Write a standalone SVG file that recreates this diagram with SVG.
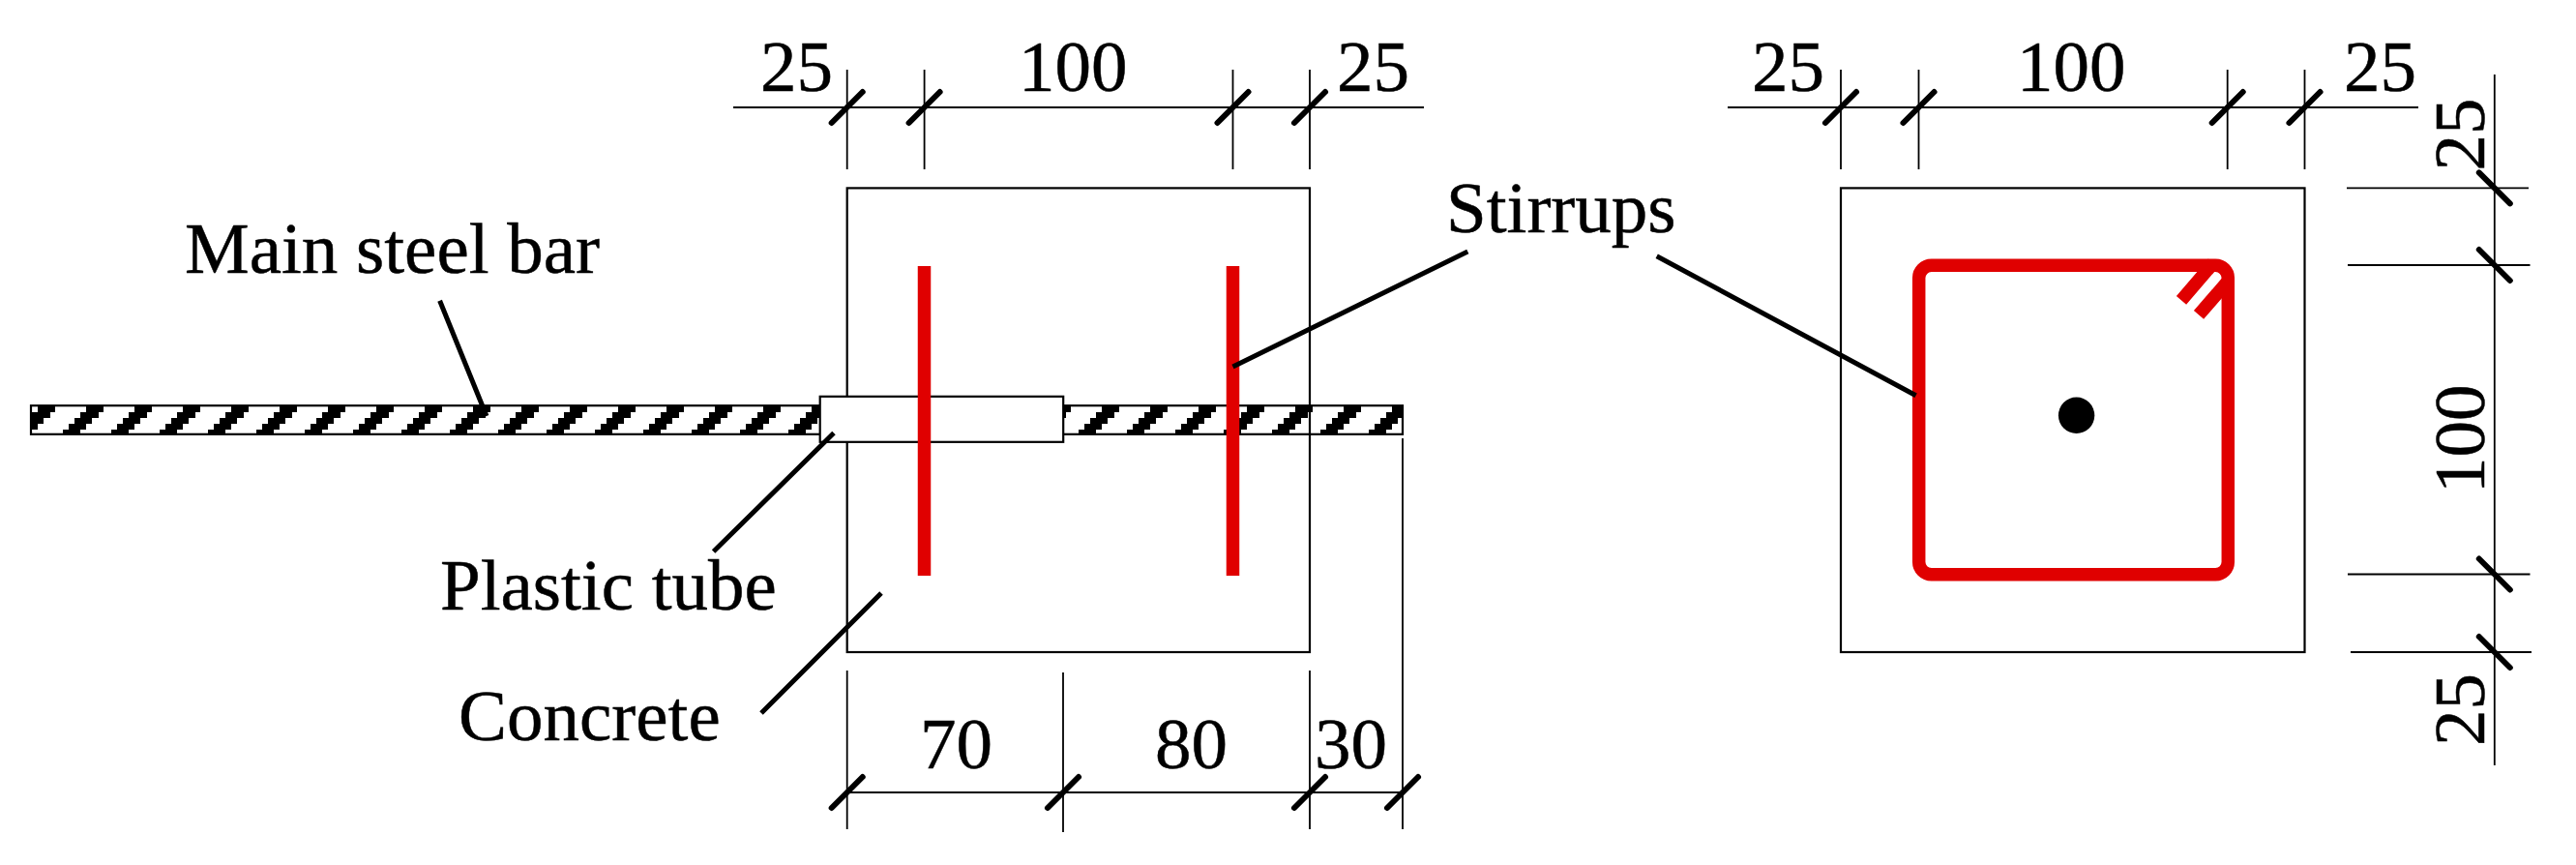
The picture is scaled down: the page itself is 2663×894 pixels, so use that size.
<svg xmlns="http://www.w3.org/2000/svg" width="2663" height="894" viewBox="0 0 2663 894">
<style>
text{font-family:"Liberation Serif","Times New Roman",serif;font-size:75px;fill:#000;stroke:#000;stroke-width:.5}
.thin{stroke:#000;stroke-width:1.8;fill:none}
.box{stroke:#000;stroke-width:2.2;fill:none}
.tick{stroke:#000;stroke-width:6;stroke-linecap:round;fill:none}
.lead{stroke:#000;stroke-width:5;fill:none}
.red{stroke:#e00000;stroke-width:13.5;fill:none}
</style>
<defs>
<pattern id="hatch" patternUnits="userSpaceOnUse" x="0" y="420" width="50" height="30">
<g shape-rendering="crispEdges" fill="#000">
<rect x="39" y="0" width="11" height="6"/><rect x="0" y="0" width="7" height="6"/>
<rect x="33" y="6" width="17" height="6"/><rect x="0" y="6" width="2" height="6"/>
<rect x="27" y="12" width="18" height="6"/>
<rect x="21" y="18" width="18" height="6"/>
<rect x="15" y="24" width="18" height="6"/>
</g>
</pattern>
<path id="t" class="tick" d="M-16 16L16 -16"/>
<path id="u" class="tick" d="M-16 -16L16 16"/>
</defs>
<rect width="2663" height="894" fill="#fff"/>
<g id="bar">
<rect x="32" y="419.2" width="1418" height="29.6" fill="url(#hatch)" stroke="#000" stroke-width="2.2"/>
</g>
<g id="front-box"><rect class="box" x="875.7" y="194.4" width="478.3" height="479.6"/></g>
<g id="tube"><rect x="847.7" y="409.8" width="251.5" height="47" fill="#fff" stroke="#000" stroke-width="2.2"/></g>
<g id="front-stirrups">
<path class="red" d="M955.5 275V595M1274.5 275V595"/>
</g>
<g id="section-box"><rect class="box" x="1903" y="194.4" width="479.5" height="479.6"/></g>
<g id="section-stirrup">
<rect class="red" x="1983.7" y="274.3" width="319.6" height="319.5" rx="13" ry="13"/>
<path class="red" d="M2255 310.3L2288 272M2273 325.4L2302 292"/>
</g>
<g id="section-bar"><circle cx="2146.6" cy="429.3" r="18.7" fill="#000"/></g>
<g id="connectors">
<path class="lead" d="M454.6 310.7L503 430M862 447.5L737.6 570M911 613L787 737M1274.5 379L1517.3 260M1712.7 264.7L1980.6 408.8"/>
</g>
<g id="front-dimensions">
<path class="thin" d="M758 111H1472M875.7 72V175M955.6 72V175M1274.5 72V175M1354 72V175M875.7 693V857M1099 695V860M1354 693V857M1450 453V857M875.7 819H1450"/>
<use href="#t" x="875.7" y="111"/><use href="#t" x="955.6" y="111"/><use href="#t" x="1274.5" y="111"/><use href="#t" x="1354" y="111"/>
<use href="#t" x="875.7" y="819"/><use href="#t" x="1099" y="819"/><use href="#t" x="1354" y="819"/><use href="#t" x="1450" y="819"/>
<text x="786" y="94">25</text><text x="1053" y="94">100</text><text x="1382" y="94">25</text>
<text x="951" y="793.5">70</text><text x="1194" y="793.5">80</text><text x="1359" y="793.5">30</text>
</g>
<g id="section-dimensions">
<path class="thin" d="M1786 111H2500M1903 72V175M1983.5 72V175M2302.7 72V175M2382.5 72V175M2578.8 77V791M2426 194.4H2614M2427 274H2615.5M2427 593.5H2615.5M2430 674H2617"/>
<use href="#t" x="1903" y="111"/><use href="#t" x="1983.5" y="111"/><use href="#t" x="2302.7" y="111"/><use href="#t" x="2382.5" y="111"/>
<use href="#u" x="2578.8" y="194.4"/><use href="#u" x="2578.8" y="274"/><use href="#u" x="2578.8" y="593.5"/><use href="#u" x="2578.8" y="674"/>
<text x="1811" y="94">25</text><text x="2085" y="94">100</text><text x="2423" y="94">25</text>
<text transform="translate(2567.7 176.5) rotate(-90)">25</text>
<text transform="translate(2567.7 510) rotate(-90)">100</text>
<text transform="translate(2567.7 771) rotate(-90)">25</text>
</g>
<g id="label-main-steel-bar"><text x="191" y="282">Main steel bar</text></g>
<g id="label-plastic-tube"><text x="455" y="630">Plastic tube</text></g>
<g id="label-concrete"><text x="474" y="765">Concrete</text></g>
<g id="label-stirrups"><text x="1495" y="240">Stirrups</text></g>
</svg>
